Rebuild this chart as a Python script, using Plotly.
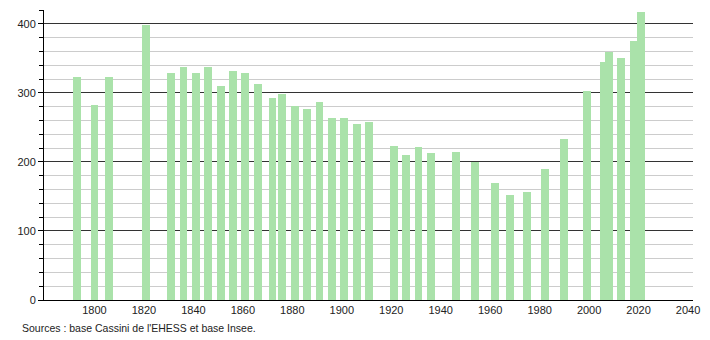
import plotly.graph_objects as go

years = [1793, 1800, 1806, 1821, 1831, 1836, 1841, 1846, 1851, 1856, 1861, 1866,
         1872, 1876, 1881, 1886, 1891, 1896, 1901, 1906, 1911, 1921, 1926, 1931,
         1936, 1946, 1954, 1962, 1968, 1975, 1982, 1990, 1999, 2006, 2008, 2013,
         2018, 2021]
population = [323, 283, 323, 399, 329, 338, 329, 338, 310, 331, 329, 313,
              293, 299, 281, 277, 287, 264, 264, 255, 258, 223, 210, 222,
              213, 214, 200, 169, 152, 156, 190, 233, 303, 345, 359, 351,
              375, 417]
x_ticks = [1800, 1820, 1840, 1860, 1880, 1900, 1920, 1940, 1960, 1980, 2000, 2020, 2040]
y_ticks = [0, 100, 200, 300, 400]
source_text = "Sources : base Cassini de l'EHESS et base Insee."

fig = go.Figure()
fig.add_trace(go.Bar(
    x=years, y=population, width=3.2,
    marker=dict(color="rgb(170,226,170)", line=dict(width=0)),
    hoverinfo="x+y",
))

fig.update_layout(
    width=710, height=340,
    margin=dict(l=44, r=10, t=10, b=40),
    plot_bgcolor="white", paper_bgcolor="white",
    font=dict(family="Liberation Sans, Arial, sans-serif", size=11, color="#222"),
    showlegend=False,
    bargap=0,
)
fig.update_xaxes(
    range=[1779.6, 2042], tickvals=x_ticks, ticktext=[str(v) for v in x_ticks],
    showgrid=False, showline=True, linecolor="black", linewidth=1,
    ticks="", zeroline=False, tickfont=dict(size=11),
)
fig.update_yaxes(
    range=[0, 420], tickvals=y_ticks, ticktext=[str(v) for v in y_ticks],
    showgrid=True, gridcolor="#333", gridwidth=1,
    showline=True, linecolor="black", linewidth=1,
    ticks="outside", ticklen=5, tickcolor="black",
    zeroline=False, tickfont=dict(size=11),
    minor=dict(dtick=20, tick0=0, ticks="outside", ticklen=4, tickcolor="black",
               showgrid=True, gridcolor="#ccc", gridwidth=1),
    layer="below traces",
)
fig.add_annotation(
    text=source_text, xref="paper", yref="paper",
    x=-0.0366, y=-0.095, xanchor="left", yanchor="middle",
    showarrow=False, font=dict(size=10.5, color="#222"),
)
fig.write_html("out.html")
